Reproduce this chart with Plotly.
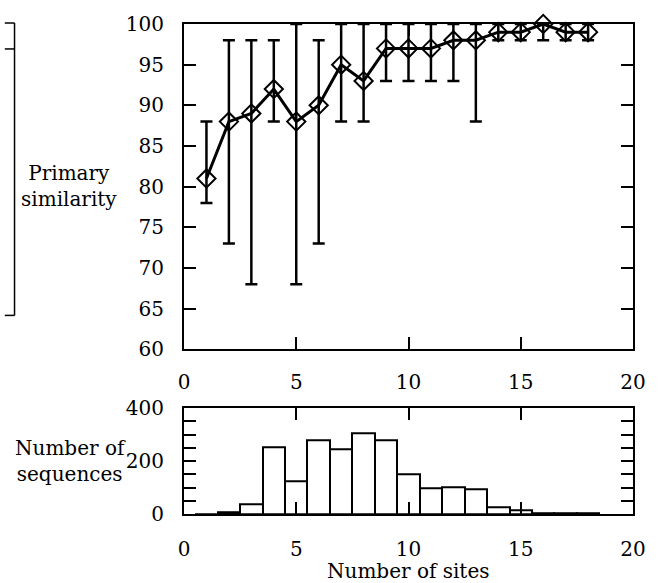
import plotly.graph_objects as go

# ---- data ----
sites = list(range(1, 19))
similarity = [81, 88, 89, 92, 88, 90, 95, 93, 97, 97, 97, 98, 98, 99, 99, 100, 99, 99]
sim_high = [88, 98, 98, 98, 100, 98, 100, 100, 100, 100, 100, 100, 100, 100, 100, 100, 100, 100]
sim_low = [78, 73, 68, 88, 68, 73, 88, 88, 93, 93, 93, 93, 88, 98, 98, 98, 98, 98]
counts = [1, 7, 38, 252, 124, 279, 245, 305, 279, 151, 98, 102, 94, 26, 15, 4, 2, 2]
x_ticks = [0, 5, 10, 15, 20]
sim_ticks = [60, 65, 70, 75, 80, 85, 90, 95, 100]
count_ticks = [0, 200, 400]

err_plus = [h - v for h, v in zip(sim_high, similarity)]
err_minus = [v - l for l, v in zip(sim_low, similarity)]

FONT = "DejaVu Serif"
W, H = 658, 583
L, R, T, B = 184, 13, 23, 69
PW, PH = W - L - R, H - T - B


def px(x):
    return (x - L) / PW


def py(y):
    return (H - B - y) / PH


fig = go.Figure()
fig.add_trace(go.Scatter(
    x=sites, y=similarity, mode="lines+markers",
    line=dict(color="black", width=3),
    marker=dict(symbol="diamond-open", size=14, color="black", line=dict(width=2, color="black")),
    error_y=dict(type="data", symmetric=False, array=err_plus, arrayminus=err_minus,
                 color="black", thickness=2.5, width=6),
    cliponaxis=False, xaxis="x", yaxis="y", showlegend=False,
))
fig.add_trace(go.Bar(
    x=sites, y=counts, width=1,
    marker=dict(color="white", line=dict(color="black", width=2)),
    xaxis="x2", yaxis="y2", showlegend=False,
))

axis_common = dict(showline=True, linecolor="black", linewidth=2, mirror="allticks",
                   ticks="inside", tickcolor="black", tickwidth=2, ticklen=12,
                   showgrid=False, zeroline=False,
                   tickfont=dict(family=FONT, size=20, color="black"))

top_dom = [py(349), 1]
bot_dom = [0, py(408)]

fig.update_layout(
    width=W, height=H, margin=dict(l=L, r=R, t=T, b=B),
    paper_bgcolor="white", plot_bgcolor="white", bargap=0,
    xaxis=dict(domain=[0, 1], range=[0, 20], tickvals=x_ticks, anchor="y",
               ticklabelstandoff=14, **axis_common),
    yaxis=dict(domain=top_dom, range=[60, 100], tickvals=sim_ticks, anchor="x",
               ticklabelstandoff=14, **axis_common),
    xaxis2=dict(domain=[0, 1], range=[0, 20], tickvals=x_ticks, anchor="y2",
                ticklabelstandoff=16, **axis_common),
    yaxis2=dict(domain=bot_dom, range=[0, 400], tickvals=count_ticks, anchor="x2",
                ticklabelstandoff=14,
                minor=dict(dtick=50, ticks="inside", ticklen=12, tickwidth=2, tickcolor="black"),
                **axis_common),
)

ann_font = dict(family=FONT, size=20, color="black")
ann_kw = dict(xref="paper", yref="paper", showarrow=False, font=ann_font,
              xanchor="center", yanchor="middle", align="center")
fig.add_annotation(text="Primary<br>similarity", x=px(66), y=py(185), **ann_kw)
fig.add_annotation(text="Number of<br>sequences", x=px(67), y=py(461), **ann_kw)
fig.add_annotation(text="Number of sites", x=px(414), y=py(571), **ann_kw)

# fragment of neighbouring box at the left page edge
line = dict(color="black", width=1.5)
fig.add_shape(type="line", xref="paper", yref="paper", x0=px(0), x1=px(10), y0=py(22), y1=py(22), line=line)
fig.add_shape(type="line", xref="paper", yref="paper", x0=px(0), x1=px(10), y0=py(48), y1=py(48), line=line)
fig.add_shape(type="line", xref="paper", yref="paper", x0=px(10), x1=px(10), y0=py(22), y1=py(315), line=line)
fig.add_shape(type="line", xref="paper", yref="paper", x0=px(0), x1=px(10), y0=py(315), y1=py(315), line=line)

fig.write_html("out.html")
